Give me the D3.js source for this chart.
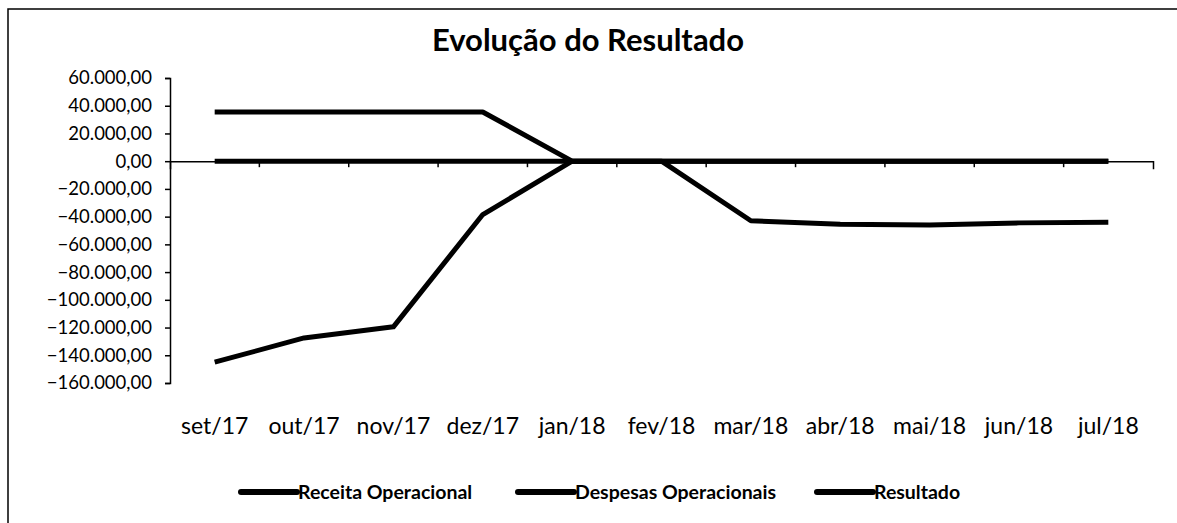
<!DOCTYPE html>
<html>
<head>
<meta charset="utf-8">
<script src="https://cdn.jsdelivr.net/npm/d3@7"></script>
<style>
  body { margin: 0; background: #fff; }
  text { font-family: Lato, "Open Sans", sans-serif; fill: #000; }
</style>
</head>
<body>
<script>
var months = ['set/17', 'out/17', 'nov/17', 'dez/17', 'jan/18', 'fev/18', 'mar/18', 'abr/18', 'mai/18', 'jun/18', 'jul/18']
var receita = [35500, 35500, 35500, 35500, 0, 0, 0, 0, 0, 0, 0]
var despesas = [0, 0, 0, 0, 0, 0, 0, 0, 0, 0, 0]
var resultado = [-145000, -127500, -119500, -38500, 0, 0, -43000, -45500, -46000, -44500, -44000]
var seriesNames = ['Receita Operacional', 'Despesas Operacionais', 'Resultado']
var yTicks = [60000, 40000, 20000, 0, -20000, -40000, -60000, -80000, -100000, -120000, -140000, -160000]

var W = 1177, H = 523

var svg = d3.select('body').append('svg').attr('width', W).attr('height', H)

// frame of the excel chart area
svg.append('rect')
  .attr('x', 8).attr('y', 9).attr('width', 1200).attr('height', 560)
  .attr('fill', 'none').attr('stroke', '#000').attr('stroke-width', 1.5)

svg.append('text')
  .attr('x', 588).attr('y', 51)
  .attr('text-anchor', 'middle')
  .style('font-size', '31px').style('font-weight', 'bold')
  .text('Evolução do Resultado')

var x = d3.scaleBand().domain(months).range([170, 1153])
var y = d3.scaleLinear().domain([-160000, 60000]).range([383, 78])

var fmt = d3.formatLocale({decimal: ',', thousands: '.', grouping: [3], currency: ['', '']}).format(',.2f')

// y axis
var yAxis = d3.axisLeft(y).tickValues(yTicks).tickSize(5).tickPadding(13).tickFormat(fmt)
var gy = svg.append('g').attr('transform', 'translate(170,0)').call(yAxis)
gy.select('.domain').attr('stroke', '#000').attr('stroke-width', 1.5)
gy.selectAll('.tick line').attr('stroke', '#000').attr('stroke-width', 1.5)
gy.selectAll('.tick text').style('font-size', '18.5px').style('font-family', 'Lato, sans-serif').attr('fill', '#000')

// x axis sits on zero, labels go below the plot
var xAxis = d3.axisBottom(x).tickSizeOuter(8).tickSizeInner(0).tickFormat('')
var gx = svg.append('g').attr('transform', 'translate(0,' + y(0) + ')').call(xAxis)
gx.select('.domain').attr('stroke', '#000').attr('stroke-width', 1.5)
gx.selectAll('.tick').remove()
gx.selectAll('.sep').data(months.slice(1)).enter().append('line')
  .attr('x1', d => x(d)).attr('x2', d => x(d))
  .attr('y1', 0).attr('y2', 6)
  .attr('stroke', '#000').attr('stroke-width', 1.5)

svg.selectAll('.xlab').data(months).enter().append('text')
  .attr('x', d => x(d) + x.bandwidth() / 2)
  .attr('y', 434)
  .attr('text-anchor', 'middle')
  .style('font-size', '23px')
  .text(d => d)

var line = d3.line()
  .x((d, i) => x(months[i]) + x.bandwidth() / 2)
  .y(d => y(d))

var all = [receita, despesas, resultado]
svg.selectAll('.series').data(all).enter().append('path')
  .attr('d', d => line(d))
  .attr('fill', 'none')
  .attr('stroke', '#000')
  .attr('stroke-width', 5)
  .attr('stroke-linejoin', 'round')

// legend
var legX = [239, 516, 815]
var leg = svg.selectAll('.leg').data(seriesNames).enter().append('g')
  .attr('transform', (d, i) => 'translate(' + legX[i] + ',492)')
leg.append('line')
  .attr('x1', 2).attr('x2', 58)
  .attr('stroke', '#000').attr('stroke-width', 6)
  .attr('stroke-linecap', 'round')
leg.append('text')
  .attr('x', 59).attr('y', 7)
  .style('font-size', '19.5px').style('font-weight', 'bold')
  .text(d => d)
</script>
</body>
</html>
